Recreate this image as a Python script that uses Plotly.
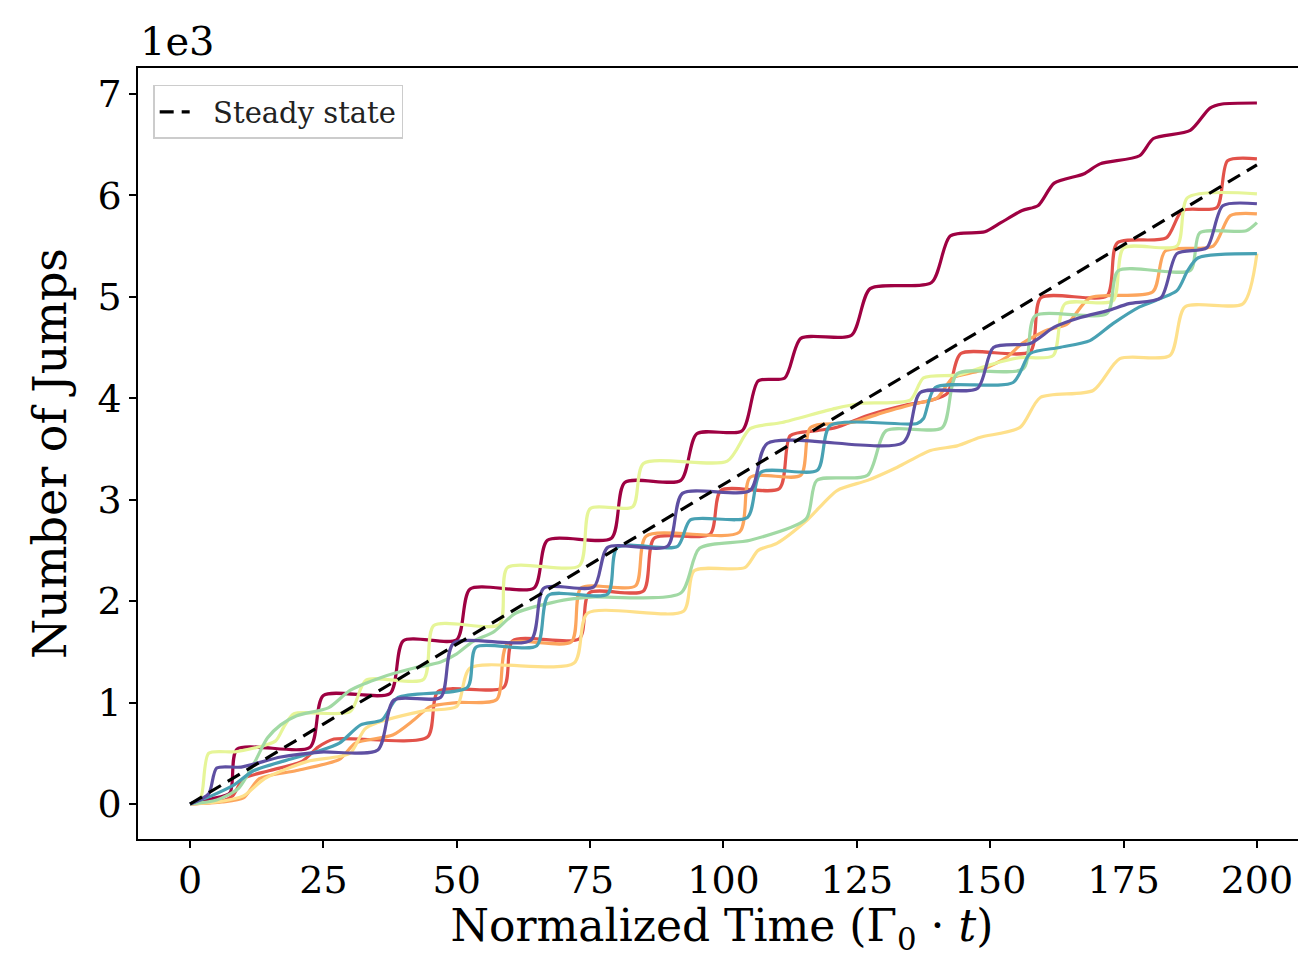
import plotly.graph_objects as go

# ---------------- data ----------------
t_c0 = [0, 4, 7.5, 8.8, 22.5, 25, 37.5, 40, 50, 52.5, 64.5, 67, 79, 81.5, 92, 95, 103.5, 106.5, 111.5, 114.5,
        124, 127.5, 139, 142.5, 149, 152, 156, 159, 162, 167.5, 170.6, 178, 180.6, 187.5, 191.2, 193.5, 200]
n_c0 = [0, 50, 110, 540, 560, 1070, 1090, 1610, 1620, 2120, 2130, 2600, 2620, 3170, 3190, 3650, 3680, 4170, 4200, 4590,
        4620, 5080, 5140, 5600, 5640, 5730, 5850, 5900, 6120, 6210, 6310, 6390, 6560, 6640, 6860, 6900, 6910]

t_c1 = [0, 6, 8, 10, 15, 21, 24, 27, 44.5, 46.5, 58.8, 60.5, 73, 74.8, 85, 87, 97.5, 99.5, 110.5, 112.5,
        117.5, 121, 127, 134, 139, 142, 144.5, 157.5, 159.5, 171.9, 173.8, 183, 186, 192.5, 194.5, 200]
n_c1 = [0, 30, 80, 250, 330, 420, 560, 640, 660, 1110, 1150, 1610, 1630, 2080, 2100, 2620, 2660, 3090, 3110, 3630,
        3680, 3710, 3830, 3930, 3980, 4050, 4440, 4460, 4990, 5010, 5530, 5580, 5850, 5880, 6340, 6360]

t_c2 = [0, 6, 10, 13, 20, 28, 31, 38, 42, 45, 50, 57.5, 59.5, 71.5, 73.3, 83.5, 85.5, 103, 105, 114.5,
        116.3, 124, 130, 136.3, 140, 143, 148, 153, 156, 160.6, 164.4, 168.7, 180.5, 182.8, 191.8, 195, 200]
n_c2 = [0, 20, 60, 250, 330, 440, 600, 680, 830, 960, 1000, 1030, 1580, 1600, 2130, 2150, 2640, 2680, 3220, 3240,
        3710, 3760, 3860, 3950, 4000, 4200, 4270, 4400, 4540, 4670, 4730, 4990, 5050, 5450, 5500, 5800, 5818]

t_c3 = [0, 5, 10, 14, 22, 30, 33, 44, 50, 52.5, 72, 74.5, 92.5, 94.5, 104, 106.5, 110, 115.7, 121.3, 127,
        132.6, 138.8, 143.8, 148, 155.6, 159.4, 169.3, 174.3, 183.7, 186.5, 197.4, 200]
n_c3 = [0, 20, 80, 250, 420, 500, 750, 920, 960, 1340, 1390, 1880, 1900, 2300, 2330, 2500, 2570, 2800, 3090, 3190,
        3320, 3485, 3530, 3613, 3712, 4007, 4076, 4390, 4420, 4900, 4932, 5425]

t_c4 = [0, 2, 3.5, 8.6, 16, 17.6, 19.5, 30, 33, 43.8, 45.7, 58, 59.5, 73, 75, 83, 85, 100.7, 105, 111,
        121, 126, 135, 137.5, 144, 150, 155.6, 161.8, 164, 173, 175, 185, 187, 200]
n_c4 = [0, 60, 500, 515, 620, 760, 890, 910, 1220, 1230, 1760, 1770, 2330, 2350, 2910, 2930, 3357, 3380, 3700, 3760,
        3900, 3950, 3980, 4200, 4230, 4330, 4400, 4420, 4930, 4960, 5480, 5500, 5977, 6015]

t_c5 = [0, 5, 9, 12, 14.5, 17, 20, 26, 30, 36, 42, 47, 50, 53, 57, 61, 70, 75, 92, 95.5,
        105, 115.5, 117.5, 127, 130.5, 141, 143.8, 156.2, 158.4, 171.9, 174, 187.5, 189.3, 198, 200]
n_c5 = [0, 40, 150, 400, 650, 780, 870, 950, 1120, 1250, 1340, 1400, 1480, 1600, 1700, 1880, 2010, 2040, 2080, 2520,
        2600, 2810, 3190, 3240, 3680, 3710, 4240, 4290, 4810, 4834, 5257, 5260, 5630, 5650, 5730]

t_c6 = [0, 4, 8, 12, 18, 24, 28, 32, 36, 39, 52, 53.6, 65, 67.2, 78.3, 80.1, 91.4, 93.8, 104.5, 107,
        117.6, 120, 136.3, 137.5, 139.7, 154.3, 157.5, 163, 168.7, 173, 178, 185, 187, 189, 200]
n_c6 = [0, 80, 180, 330, 430, 520, 600, 780, 830, 1050, 1150, 1545, 1560, 2057, 2070, 2530, 2540, 2800, 2825, 3270,
        3290, 3730, 3750, 3800, 4106, 4155, 4440, 4500, 4568, 4735, 4900, 5060, 5257, 5385, 5425]

t_c7 = [0, 3.5, 5, 9.6, 17, 24.5, 35.2, 38.2, 47, 49.4, 63.9, 66.3, 75.7, 78.3, 89.5, 92.3, 105, 108.2, 133.7, 136.9,
        147.6, 150.6, 157.5, 162, 166.9, 172, 176, 182, 185, 190.6, 193.6, 200]
n_c7 = [0, 100, 354, 364, 463, 512, 532, 1024, 1053, 1585, 1615, 2126, 2140, 2530, 2540, 3062, 3090, 3554, 3564, 4056,
        4096, 4500, 4540, 4700, 4795, 4863, 4932, 4990, 5425, 5484, 5897, 5917]

traj_t = [t_c0, t_c1, t_c2, t_c3, t_c4, t_c5, t_c6, t_c7]
traj_n = [n_c0, n_c1, n_c2, n_c3, n_c4, n_c5, n_c6, n_c7]
traj_colors = ["#9e0142", "#e2524a", "#fca55d", "#fee08b", "#e6f598", "#a1d9a4", "#48a1b3", "#5e4fa2"]

steady_t = [0, 200]
steady_n = [0, 6300]
steady_label = "Steady state"

x_ticks = [0, 25, 50, 75, 100, 125, 150, 175, 200]
y_ticks = [0, 1000, 2000, 3000, 4000, 5000, 6000, 7000]
y_ticktext = ["0", "1", "2", "3", "4", "5", "6", "7"]

# ---------------- figure ----------------
FONT = "DejaVu Serif"
fig = go.Figure()

for tt, nn, col in zip(traj_t, traj_n, traj_colors):
    fig.add_trace(go.Scatter(x=tt, y=nn, mode="lines", showlegend=False,
                             line=dict(color=col, width=3.2, shape="spline", smoothing=0.7),
                             hoverinfo="skip"))

fig.add_trace(go.Scatter(x=steady_t, y=steady_n, mode="lines", name="&nbsp;&nbsp;" + steady_label,
                         line=dict(color="black", width=3.2, dash="14px,8px")))

fig.update_layout(
    width=1298, height=949,
    margin=dict(l=130, r=0, t=60, b=118),
    plot_bgcolor="white", paper_bgcolor="white",
    font=dict(family=FONT, color="black", size=38),
    legend=dict(x=0.013, y=0.978, xanchor="left", yanchor="top",
                bgcolor="white", bordercolor="#cccccc", borderwidth=1.5,
                font=dict(family=FONT, size=29, color="#222")),
    xaxis=dict(range=[-9.75, 209.2], tickvals=x_ticks, ticks="outside", ticklen=7, tickwidth=1.5,
               tickcolor="black", showline=True, linecolor="black", linewidth=1.5, mirror=True,
               showgrid=False, zeroline=False, tickfont=dict(size=38),
               title=dict(text="Normalized Time (Γ<sub>0</sub> · <i>t</i>)", font=dict(size=44), standoff=20)),
    yaxis=dict(range=[-345, 7255], tickvals=y_ticks, ticktext=y_ticktext, ticks="outside", ticklen=7,
               tickwidth=1.5, tickcolor="black", showline=True, linecolor="black", linewidth=1.5,
               showgrid=False, zeroline=False, tickfont=dict(size=38),
               title=dict(text="Number of Jumps", font=dict(size=46), standoff=16)),
)

fig.add_annotation(text="1e3", xref="paper", yref="paper", x=0, y=1.0, xanchor="left", yanchor="bottom",
                   showarrow=False, font=dict(family=FONT, size=40, color="black"), yshift=2)

fig.write_html("out.html")
